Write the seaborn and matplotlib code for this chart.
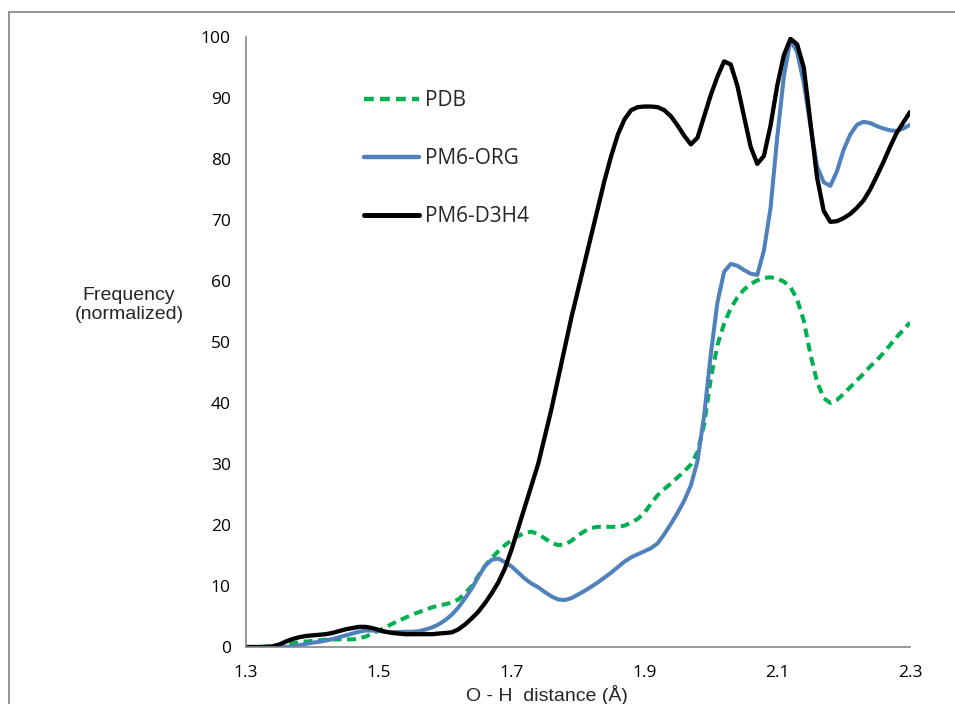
import numpy as np
import pandas as pd
import matplotlib
matplotlib.use("Agg")
import matplotlib.pyplot as plt
import seaborn as sns
from matplotlib.patches import Rectangle

# O-H distance (Å), sampled every 0.01
distance = [round(1.30 + 0.01 * i, 2) for i in range(101)]

pdb = [0, 0, 0, 0.1, 0.2, 0.35, 0.5, 0.6, 0.75, 0.9,
       1.0, 1.1, 1.2, 1.25, 1.25, 1.25, 1.25, 1.4, 1.7, 2.2,
       2.7, 3.2, 3.8, 4.3, 4.8, 5.3, 5.7, 6.1, 6.5, 6.8,
       7.0, 7.3, 7.8, 8.8, 10.0, 11.7, 13.3, 14.6, 15.7, 16.7,
       17.5, 18.2, 18.7, 18.9, 18.5, 17.8, 17.1, 16.7, 16.8, 17.4,
       18.3, 19.0, 19.5, 19.7, 19.7, 19.7, 19.7, 19.9, 20.4, 21.0,
       22.0, 23.5, 24.9, 25.9, 26.8, 27.8, 28.8, 29.9, 32.0, 36.5,
       44.0, 49.5, 53.0, 55.5, 57.3, 58.6, 59.5, 60.1, 60.5, 60.6,
       60.4, 59.9, 59.0, 57.0, 53.5, 48.0, 43.5, 40.8, 40.0, 40.5,
       41.5, 42.6, 43.7, 44.8, 46.0, 47.0, 48.2, 49.5, 50.8, 52.0,
       53.2]

pm6_org = [0, 0, 0, 0, 0, 0, 0.05, 0.1, 0.3, 0.5,
           0.7, 0.85, 1.05, 1.3, 1.6, 1.9, 2.2, 2.5, 2.7, 2.7,
           2.6, 2.5, 2.45, 2.45, 2.5, 2.5, 2.6, 2.85, 3.2, 3.7,
           4.4, 5.3, 6.5, 8.0, 9.6, 11.5, 13.3, 14.3, 14.5, 13.9,
           13.2, 12.2, 11.2, 10.4, 9.8, 9.0, 8.3, 7.8, 7.7, 8.0,
           8.6, 9.2, 9.9, 10.6, 11.4, 12.2, 13.1, 14.0, 14.7, 15.2,
           15.7, 16.2, 17.0, 18.5, 20.2, 22.0, 24.0, 26.5, 30.5, 38.0,
           48.0, 56.5, 61.5, 62.8, 62.5, 61.8, 61.2, 61.0, 65.0, 72.0,
           83.5, 93.5, 99.6, 97.5, 92.5, 85.5, 78.8, 76.2, 75.6, 78.0,
           81.5, 84.0, 85.6, 86.1, 85.9, 85.4, 85.0, 84.7, 84.6, 85.0,
           85.6]

pm6_d3h4 = [0, 0, 0, 0, 0.1, 0.4, 0.9, 1.3, 1.6, 1.8,
            1.9, 2.0, 2.1, 2.3, 2.6, 2.9, 3.1, 3.3, 3.3, 3.1,
            2.8, 2.5, 2.3, 2.2, 2.1, 2.1, 2.1, 2.1, 2.1, 2.2,
            2.3, 2.4, 2.9, 3.7, 4.7, 5.8, 7.2, 8.8, 10.6, 12.9,
            16.0, 19.5, 23.0, 26.5, 30.0, 34.5, 39.0, 44.0, 49.0, 54.0,
            58.5, 63.0, 67.5, 72.0, 76.5, 80.5, 84.0, 86.5, 88.0, 88.5,
            88.6, 88.6, 88.5, 88.0, 87.0, 85.5, 83.8, 82.4, 83.5, 87.0,
            90.5, 93.5, 96.0, 95.5, 92.0, 87.0, 82.0, 79.2, 80.5, 85.5,
            92.0, 97.0, 99.7, 98.8, 95.0, 86.0, 77.0, 71.5, 69.7, 69.8,
            70.3, 71.0, 72.0, 73.2, 75.0, 77.2, 79.5, 82.0, 84.3, 86.0,
            87.7]

series_names = ["PDB", "PM6-ORG", "PM6-D3H4"]
x_ticks = [1.3, 1.5, 1.7, 1.9, 2.1, 2.3]
y_ticks = [0, 10, 20, 30, 40, 50, 60, 70, 80, 90, 100]

df = pd.DataFrame({
    "distance": distance * 3,
    "freq": pdb + pm6_org + pm6_d3h4,
    "series": [series_names[0]] * 101 + [series_names[1]] * 101 + [series_names[2]] * 101,
})

sns.set_style("white")
plt.rcParams["font.family"] = ["Open Sans", "DejaVu Sans"]

fig = plt.figure(figsize=(9.55, 7.04), dpi=100)
ax = fig.add_axes([246 / 955, 1 - 647 / 704, (910 - 246) / 955, (647 - 37) / 704])

palette = {"PDB": "#00B050", "PM6-ORG": "#4F81BD", "PM6-D3H4": "#000000"}
widths = {"PDB": 2.9, "PM6-ORG": 2.9, "PM6-D3H4": 3.1}
for name in series_names:
    sub = df[df["series"] == name]
    sns.lineplot(data=sub, x="distance", y="freq", ax=ax, color=palette[name],
                 linewidth=widths[name], label=name,
                 linestyle=(0, (2.2, 1.4)) if name == "PDB" else "-",
                 solid_capstyle="round", dash_capstyle="butt")

ax.set_xlim(1.3, 2.3)
ax.set_ylim(0, 100)
ax.set_xticks(x_ticks)
ax.set_xticklabels([f"{t:.1f}" for t in x_ticks])
ax.set_yticks(y_ticks)
ax.set_yticklabels([str(t) for t in y_ticks])

gray = "#868686"
for s in ["top", "right"]:
    ax.spines[s].set_visible(False)
for s in ["left", "bottom"]:
    ax.spines[s].set_color(gray)
    ax.spines[s].set_linewidth(1.2)
ax.tick_params(axis="both", direction="out", length=5, width=1.2, color=gray,
               labelsize=12.5, labelcolor="black", pad=6)
ax.tick_params(axis="x", pad=8)
ax.grid(False)

ax.set_xlabel("O - H  distance (Å)", family=["Liberation Sans", "DejaVu Sans"], fontsize=14)
ax.xaxis.set_label_coords((547 - 246) / 664, -0.062)
ax.set_ylabel("Frequency\n(normalized)", family=["Liberation Sans", "DejaVu Sans"],
              fontsize=14, rotation=0, ha="center", va="center", linespacing=1.2)
ax.yaxis.set_label_coords((129 - 246) / 664, (647 - 305) / 610)

leg = ax.legend(loc="upper left", bbox_to_anchor=((356 - 246) / 664, (647 - 82) / 610),
                frameon=False, fontsize=15, handlelength=2.6, handletextpad=0.3,
                labelspacing=1.78, borderaxespad=0)
for line, name in zip(leg.get_lines(), series_names):
    line.set_linewidth(3.6 if name == "PM6-D3H4" else 3.2)

fig.patches.append(Rectangle((9 / 955, -0.05), 1.1, 1 - 12 / 704 + 0.05,
                             transform=fig.transFigure, fill=False,
                             edgecolor="#8c8c8c", linewidth=1.3))

fig.savefig("out.png", dpi=100)
